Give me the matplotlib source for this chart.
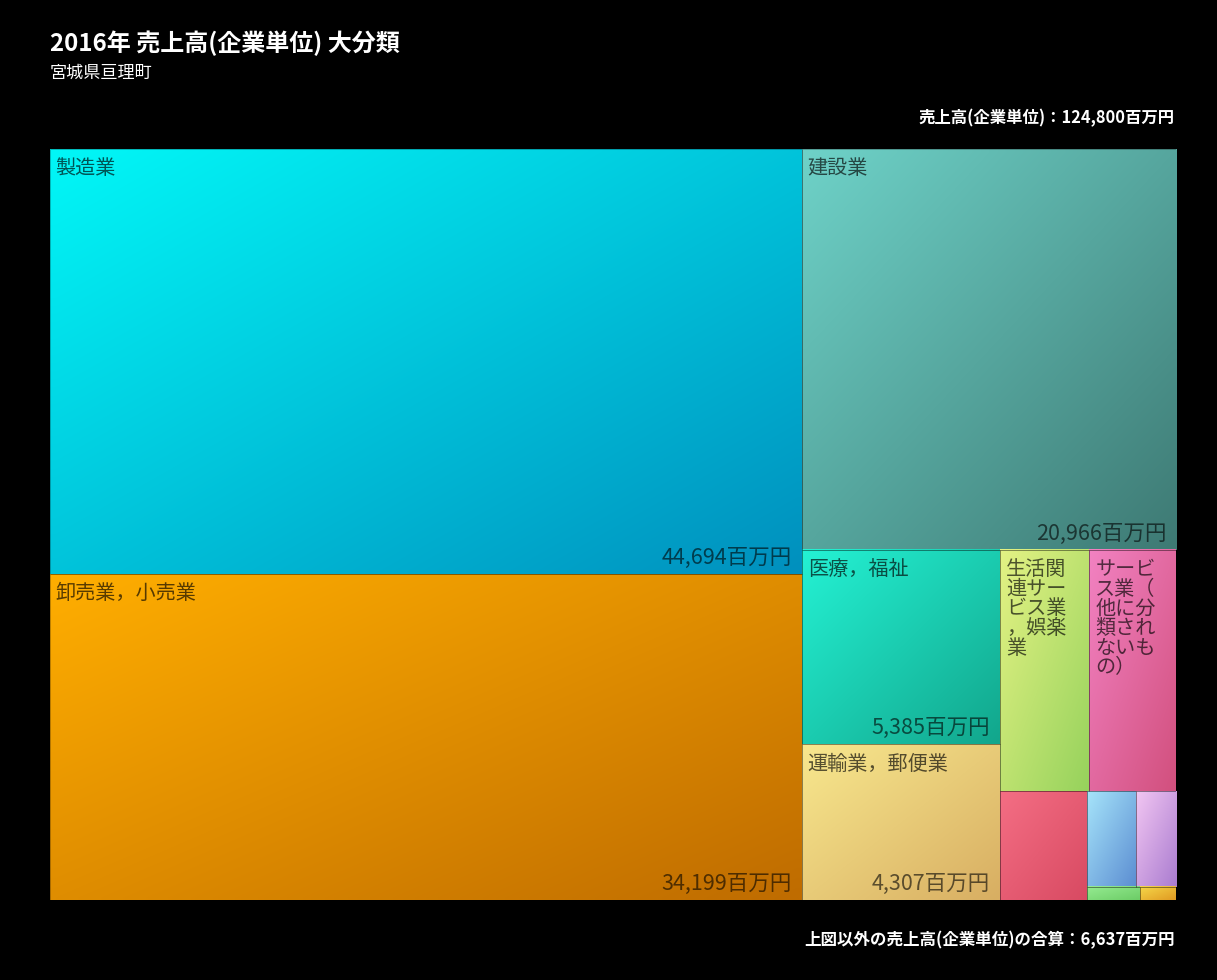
import numpy as np
import matplotlib
matplotlib.use('Agg')
import matplotlib.pyplot as plt
from matplotlib.colors import to_rgb
from matplotlib.patches import Rectangle

plt.rcParams['font.family'] = ['Noto Sans CJK JP', 'DejaVu Sans']

# sales by industry (million yen), largest first
industries = ['製造業', '卸売業，小売業', '建設業', '医療，福祉', '運輸業，郵便業',
              '生活関連サービス業，娯楽業', 'サービス業（他に分類されないもの）',
              '不動産業，物品賃貸業', '学術研究，専門・技術サービス業',
              '宿泊業，飲食サービス業', '情報通信業', '教育，学習支援業']
sales = [44694, 34199, 20966, 5385, 4307, 3013, 2926, 1325, 651, 535, 97, 65]
colors_light = ['#02F7F7', '#FFAE00', '#6ED2C8', '#24F2D4', '#F8E88E', '#E4F284',
                '#F282C2', '#F46E84', '#A6E4FA', '#F2C6F2', '#96EC92', '#F6D84A']
colors_dark = ['#0090BE', '#BF6C00', '#3E7A74', '#12A68C', '#D8AE62', '#96D25C',
               '#D2507E', '#D84A62', '#5C8ED2', '#AA7CD0', '#6CCC66', '#E09A22']
total_sales = 124800
other_sales = 6637

title = '2016年 売上高(企業単位) 大分類'
subtitle = '宮城県亘理町'


def squarify(values, x0, y0, x1, y1, ratio=(1 + 5 ** 0.5) / 2):
    # same row rule as d3.treemapSquarify
    rects = [None] * len(values)
    value = float(sum(values))
    n = len(values)
    i0 = 0
    while i0 < n:
        dx, dy = x1 - x0, y1 - y0
        i1 = i0 + 1
        sum_v = min_v = max_v = values[i0]
        alpha = max(dy / dx, dx / dy) / (value * ratio)
        beta = sum_v * sum_v * alpha
        min_ratio = max(max_v / beta, beta / min_v)
        while i1 < n:
            v = values[i1]
            s = sum_v + v
            mn, mx = min(min_v, v), max(max_v, v)
            beta = s * s * alpha
            new_ratio = max(mx / beta, beta / mn)
            if new_ratio > min_ratio:
                break
            sum_v, min_v, max_v, min_ratio = s, mn, mx, new_ratio
            i1 += 1
        if dx < dy:
            h = dy * sum_v / value
            x = x0
            for k in range(i0, i1):
                w = dx * values[k] / sum_v
                rects[k] = (x, y0, w, h)
                x += w
            y0 += h
        else:
            w = dx * sum_v / value
            y = y0
            for k in range(i0, i1):
                h = dy * values[k] / sum_v
                rects[k] = (x0, y, w, h)
                y += h
            x0 += w
        value -= sum_v
        i0 = i1
    return rects


def gradient(c0, c1, n=64):
    u = np.linspace(0, 1, n)
    t = (u[None, :] + u[:, None]) / 2
    a, b = np.array(to_rgb(c0)), np.array(to_rgb(c1))
    return a + (b - a) * t[..., None]


def wrap(label, per_line):
    return '\n'.join(label[i:i + per_line] for i in range(0, len(label), per_line))


fig = plt.figure(figsize=(12.17, 9.8), dpi=100, facecolor='black')
W, H = 1126.5, 751.0
ax = fig.add_axes([49.5 / 1217, 80 / 980, W / 1217, H / 980])

rects = squarify(sales, 0, 0, W, H)
for name, v, c0, c1, (x, y, w, h) in zip(industries, sales, colors_light, colors_dark, rects):
    ax.imshow(gradient(c0, c1), extent=(x, x + w, y + h, y), aspect='auto',
              interpolation='bilinear', zorder=1)
    ax.add_patch(Rectangle((x, y), w, h, fill=False, ec=(0, 0, 0, 0.25), lw=0.7, zorder=2))
    if w > 60 and h > 150:
        per_line = max(1, int((w - 20) // 20))
        ax.text(x + 6, y + 9, wrap(name, per_line), ha='left', va='top', fontsize=14.5,
                color='black', alpha=0.65, linespacing=0.92, zorder=3)
    if w > 150 and h > 60:
        ax.text(x + w - 10, y + h - 5, f'{v:,}百万円', ha='right', va='bottom',
                fontsize=15.5, color='black', alpha=0.6, zorder=3)

ax.set_xlim(0, W)
ax.set_ylim(H, 0)
ax.axis('off')

fig.text(50 / 1217, 1 - 43 / 980, title, fontsize=17.3, fontweight='bold',
         color='white', va='center', ha='left')
fig.text(50 / 1217, 1 - 73 / 980, subtitle, fontsize=12.3, color='white',
         va='center', ha='left')
fig.text(1175 / 1217, 1 - 118 / 980, f'売上高(企業単位)：{total_sales:,}百万円',
         fontsize=11.8, fontweight='bold', color='white', va='center', ha='right')
fig.text(1175 / 1217, 1 - 940 / 980, f'上図以外の売上高(企業単位)の合算：{other_sales:,}百万円',
         fontsize=11.9, fontweight='bold', color='white', va='center', ha='right')

fig.savefig('out.png', dpi=100, facecolor='black')
